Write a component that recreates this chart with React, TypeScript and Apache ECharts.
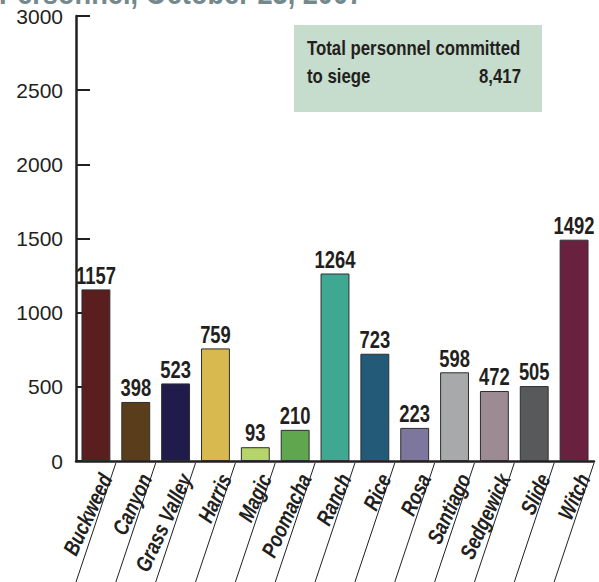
import React, { useEffect, useRef } from "react";
import * as echarts from "echarts";

const categories = ["Buckweed", "Canyon", "Grass Valley", "Harris", "Magic", "Poomacha", "Ranch", "Rice", "Rosa", "Santiago", "Sedgewick", "Slide", "Witch"];
const personnel = [1157, 398, 523, 759, 93, 210, 1264, 723, 223, 598, 472, 505, 1492];
const barColors = ["#5b1e1f", "#5a3e1b", "#1f1c4b", "#d8b94f", "#b5d46a", "#60a64f", "#3fa892", "#235a78", "#7d779e", "#a8a9ab", "#9d8b94", "#58595b", "#6a213f"];
const yTicks = [0, 500, 1000, 1500, 2000, 2500, 3000];
const titleText = "Personnel, October 23, 2007";
const boxLine1 = "Total personnel committed";
const boxLine2 = "to siege";
const boxTotal = "8,417";

const SANS = "'Liberation Sans', Arial, sans-serif";
const INK = "#231f20";

export default function App() {
  const ref = useRef<HTMLDivElement>(null);
  useEffect(() => {
    if (!ref.current) return;
    const chart = echarts.init(ref.current, undefined, { renderer: "svg" });
    chart.setOption({
      animation: false,
      backgroundColor: "#ffffff",
      grid: { left: 76, right: 5, top: 16, bottom: 121, containLabel: false, outerBoundsMode: "none" },
      xAxis: {
        type: "category",
        data: categories,
        axisLine: { lineStyle: { color: INK, width: 2.5 } },
        axisTick: { inside: true, length: 9, lineStyle: { color: INK, width: 2 } },
        axisLabel: { show: false },
      },
      yAxis: {
        type: "value",
        min: yTicks[0],
        max: yTicks[yTicks.length - 1],
        interval: 500,
        splitLine: { show: false },
        axisLine: { show: true, lineStyle: { color: INK, width: 2.5 } },
        axisTick: { show: true, inside: true, length: 14, lineStyle: { color: INK, width: 2 } },
        axisLabel: {
          color: INK,
          fontSize: 21,
          fontFamily: SANS,
          margin: 13,
          formatter: (v: number) => String(v),
        },
      },
      graphic: [
        {
          type: "text",
          x: -1,
          y: -7,
          scaleX: 0.85,
          style: { text: titleText, font: `bold 32px ${SANS}`, fill: "#74898c", verticalAlign: "middle" },
        },
        { type: "rect", shape: { x: 294, y: 25, width: 248, height: 87 }, style: { fill: "#c6dccc" } },
        { type: "text", x: 307, y: 48, scaleX: 0.84, style: { text: boxLine1, font: `bold 20px ${SANS}`, fill: INK, verticalAlign: "middle" } },
        { type: "text", x: 307, y: 76, scaleX: 0.84, style: { text: boxLine2, font: `bold 20px ${SANS}`, fill: INK, verticalAlign: "middle" } },
        { type: "text", x: 521, y: 76, scaleX: 0.84, style: { text: boxTotal, font: `bold 20px ${SANS}`, fill: INK, align: "right", verticalAlign: "middle" } },
      ],
      series: [
        {
          type: "bar",
          barWidth: "72.5%",
          z: 2,
          data: personnel.map((v, i) => ({ value: v, itemStyle: { color: barColors[i], borderColor: "#2e2e2e", borderWidth: 1 } })),
          label: { show: false },
        },
        {
          type: "custom",
          silent: true,
          clip: false,
          z: 5,
          data: personnel.map((v, i) => [i, v]),
          renderItem: (params: any, api: any) => {
            const idx = api.value(0);
            const val = api.value(1);
            const base = api.coord([idx, 0]);
            const top = api.coord([idx, val]);
            const w = api.size([1, 0])[0];
            const xb = base[0] + w / 2;
            const y0 = base[1] + 2;
            const yEnd = api.getHeight();
            return {
              type: "group",
              children: [
                {
                  type: "line",
                  shape: { x1: xb, y1: y0, x2: xb - w, y2: yEnd },
                  style: { stroke: INK, lineWidth: 1 },
                },
                {
                  type: "text",
                  x: top[0],
                  y: top[1] - 14,
                  scaleX: 0.8,
                  style: {
                    text: String(val),
                    font: `bold 23px ${SANS}`,
                    fill: INK,
                    align: "center",
                    verticalAlign: "middle",
                  },
                },
                {
                  type: "text",
                  x: base[0] + 10,
                  y: base[1] + 14,
                  rotation: (65 * Math.PI) / 180,
                  scaleX: 0.8,
                  style: {
                    text: categories[idx],
                    font: `italic bold 22px ${SANS}`,
                    fill: INK,
                    align: "right",
                    verticalAlign: "middle",
                  },
                },
              ],
            };
          },
        },
      ],
    });
    return () => chart.dispose();
  }, []);
  return <div ref={ref} style={{ position: "fixed", left: 0, top: 0, width: 599, height: 582 }} />;
}
